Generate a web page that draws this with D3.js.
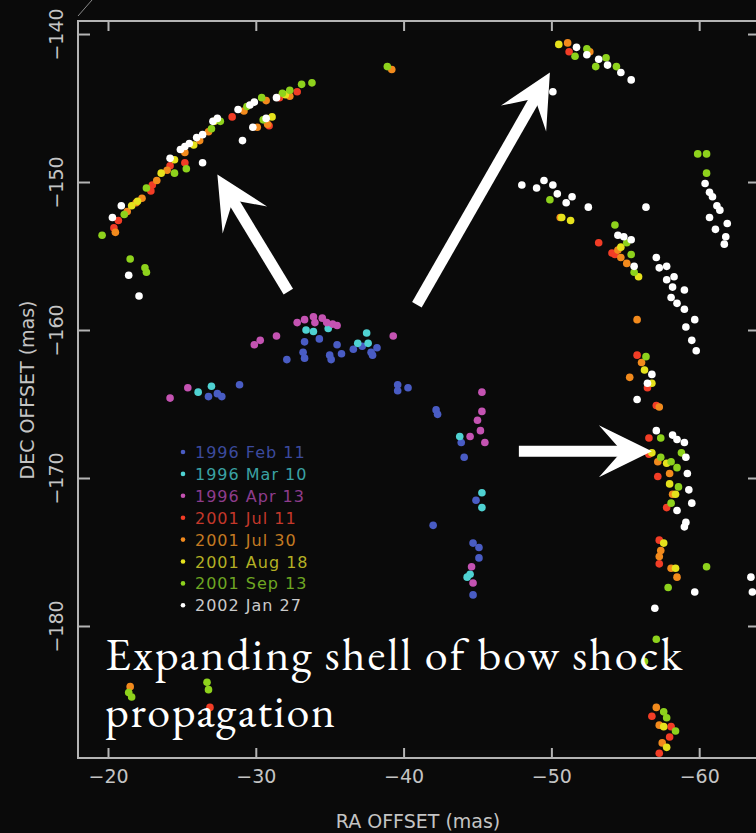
<!DOCTYPE html>
<html>
<head>
<meta charset="utf-8">
<script src="https://cdn.jsdelivr.net/npm/d3@7"></script>
<style>
html,body{margin:0;padding:0;background:#0a0a0a;}
svg{display:block;}
</style>
</head>
<body>
<svg id="chart" width="756" height="833"></svg>
<script>
// ---------- DATA ----------
const epochs = ["1996 Feb 11","1996 Mar 10","1996 Apr 13","2001 Jul 11","2001 Jul 30","2001 Aug 18","2001 Sep 13","2002 Jan 27"];
const dotColors = ["#4a5cc4","#4fd2d2","#c452b2","#f23c26","#f28a1e","#e6e21e","#8ed21e","#ffffff"];
const textColors = ["#3c4a9e","#3aa2a4","#8e3c8c","#c4382a","#c47a22","#b4b024","#6ea622","#cacaca"];
const xTicks = [-20,-30,-40,-50,-60];
const yTicks = [-140,-150,-160,-170,-180];

const feb11 = [[-26.8,-164.5],[-27.4,-164.3],[-27.7,-164.5],[-28.9,-163.7],[-32.1,-162.0],[-33.3,-160.8],[-33.2,-161.5],[-33.3,-161.9],[-34.3,-160.6],[-35.0,-161.7],[-35.1,-162.0],[-35.5,-161.0],[-35.8,-161.6],[-36.6,-161.3],[-37.2,-161.1],[-37.8,-161.5],[-38.2,-161.2],[-37.9,-161.7],[-39.6,-163.7],[-39.6,-164.1],[-40.3,-163.9],[-42.2,-165.4],[-42.3,-165.7],[-43.9,-167.6],[-44.1,-168.6],[-44.9,-171.5],[-42.0,-173.2],[-44.7,-174.4],[-45.1,-174.7],[-45.1,-175.4],[-44.7,-177.9]];
const mar10 = [[-26.1,-164.2],[-27.0,-163.8],[-33.4,-160.0],[-33.9,-160.1],[-34.9,-159.9],[-37.5,-160.2],[-36.9,-160.9],[-37.6,-160.9],[-43.8,-167.2],[-45.3,-171.0],[-45.3,-172.0],[-44.3,-176.7],[-44.5,-176.5]];
const apr13 = [[-24.2,-164.6],[-25.4,-163.9],[-29.9,-161.0],[-30.3,-160.7],[-31.4,-160.4],[-32.8,-159.5],[-33.3,-159.3],[-33.9,-159.1],[-34.0,-159.5],[-34.5,-159.2],[-34.8,-159.5],[-35.2,-159.6],[-35.5,-159.7],[-39.3,-160.4],[-45.3,-164.2],[-45.3,-165.5],[-45.0,-166.1],[-45.2,-166.8],[-45.5,-167.6],[-44.5,-167.2],[-44.6,-176.0],[-44.7,-177.1]];
const jul11 = [[-20.4,-153.1],[-20.7,-152.6],[-22.9,-150.6],[-23.0,-150.2],[-24.2,-148.9],[-25.2,-148.7],[-32.8,-143.9],[-31.6,-144.3],[-30.9,-146.2],[-28.4,-145.6],[-51.2,-141.2],[-53.2,-154.1],[-54.1,-154.8],[-54.3,-154.9],[-55.8,-161.7],[-56.5,-163.9],[-57.1,-165.1],[-56.6,-167.3],[-56.6,-168.4],[-57.2,-169.9],[-57.8,-172.0],[-57.3,-174.2],[-57.3,-175.8],[-56.8,-186.1],[-58.1,-186.8],[-58.0,-187.5],[-57.3,-188.6],[-26.9,-185.5]];
const jul30 = [[-20.5,-153.4],[-21.3,-152.0],[-21.9,-151.4],[-22.3,-151.1],[-23.3,-149.9],[-24.0,-149.2],[-25.2,-148.0],[-26.8,-146.6],[-26.2,-147.2],[-29.2,-145.2],[-30.7,-144.5],[-30.8,-146.1],[-30.1,-146.3],[-32.3,-144.2],[-39.2,-142.4],[-51.1,-140.6],[-52.6,-141.2],[-50.6,-152.4],[-54.5,-154.6],[-54.7,-155.1],[-55.1,-155.5],[-55.8,-159.3],[-56.1,-162.2],[-55.3,-163.2],[-57.3,-165.2],[-57.2,-168.9],[-58.0,-169.7],[-58.2,-171.1],[-57.4,-174.9],[-57.3,-175.3],[-58.1,-176.1],[-58.5,-176.7],[-57.1,-185.5],[-57.3,-186.7],[-57.5,-187.9],[-21.5,-184.1]];
const aug18 = [[-21.6,-151.6],[-22.0,-151.3],[-23.6,-149.4],[-24.5,-148.5],[-25.8,-147.5],[-27.2,-145.9],[-31.1,-145.6],[-32.0,-144.1],[-50.5,-140.7],[-51.3,-152.6],[-50.7,-152.4],[-54.7,-154.4],[-55.9,-156.4],[-56.3,-162.7],[-56.8,-163.6],[-56.8,-168.3],[-57.8,-169.0],[-58.0,-170.4],[-58.4,-171.1],[-57.6,-174.4],[-58.4,-176.1],[-57.6,-186.8],[-57.8,-188.2]];
const sep13 = [[-19.6,-153.6],[-21.1,-152.2],[-22.6,-150.4],[-24.5,-149.4],[-25.3,-149.1],[-27.0,-146.4],[-27.6,-145.9],[-29.4,-144.9],[-30.4,-144.3],[-31.8,-144.0],[-32.3,-143.8],[-33.1,-143.4],[-33.8,-143.3],[-30.5,-145.8],[-21.5,-155.2],[-22.5,-155.8],[-22.6,-156.1],[-38.9,-142.2],[-51.6,-141.5],[-52.4,-141.0],[-53.7,-141.6],[-53.0,-142.2],[-54.4,-142.2],[-49.9,-151.2],[-54.3,-152.9],[-55.1,-154.1],[-55.4,-154.9],[-55.6,-156.1],[-59.9,-148.1],[-60.5,-148.1],[-60.5,-149.4],[-56.4,-161.8],[-57.4,-167.3],[-58.8,-168.3],[-57.4,-168.6],[-58.1,-168.9],[-58.5,-169.3],[-58.6,-170.6],[-58.1,-171.7],[-60.5,-176.0],[-57.9,-177.4],[-57.1,-180.9],[-56.3,-182.4],[-57.6,-185.8],[-57.8,-186.2],[-58.4,-187.1],[-21.4,-184.5],[-21.6,-184.8],[-26.7,-183.8],[-26.8,-184.3]];
const jan27 = [[-20.3,-152.4],[-20.9,-151.6],[-24.2,-148.4],[-24.9,-147.8],[-25.2,-147.6],[-25.5,-147.4],[-26.0,-147.0],[-26.4,-146.8],[-27.4,-145.7],[-27.1,-145.9],[-26.4,-148.7],[-29.1,-147.2],[-28.8,-145.1],[-29.6,-144.8],[-29.9,-144.6],[-31.4,-144.3],[-29.8,-146.3],[-30.7,-145.7],[-21.4,-156.3],[-22.1,-157.7],[-51.7,-140.9],[-52.4,-141.4],[-53.2,-141.7],[-53.8,-142.1],[-54.7,-142.6],[-55.4,-143.1],[-50.1,-143.9],[-48.0,-150.2],[-49.0,-150.4],[-49.5,-149.9],[-50.1,-150.2],[-50.4,-150.8],[-51.0,-151.4],[-51.4,-151.0],[-52.5,-151.7],[-56.4,-151.7],[-60.4,-150.1],[-60.7,-150.7],[-60.9,-151.0],[-61.2,-151.6],[-61.4,-151.9],[-60.7,-152.4],[-61.1,-153.2],[-61.9,-152.8],[-61.8,-153.7],[-61.7,-154.2],[-54.5,-153.6],[-54.9,-153.7],[-55.4,-153.9],[-55.6,-155.7],[-57.1,-155.1],[-57.3,-155.8],[-57.8,-155.7],[-57.8,-156.6],[-58.3,-156.4],[-58.2,-157.1],[-59.0,-157.3],[-58.1,-157.8],[-58.5,-158.2],[-59.0,-158.6],[-59.7,-159.3],[-59.1,-159.8],[-59.5,-160.7],[-59.8,-161.4],[-56.8,-163.0],[-56.5,-163.6],[-55.8,-164.7],[-57.1,-166.8],[-58.2,-167.1],[-58.5,-167.4],[-59.0,-167.6],[-59.1,-168.6],[-59.2,-169.7],[-59.3,-170.8],[-59.5,-171.7],[-58.5,-172.2],[-59.1,-173.0],[-59.0,-173.3],[-59.7,-177.7],[-57.0,-178.8],[-63.5,-176.7],[-63.6,-177.7]];
const seriesData = [feb11, mar10, apr13, jul11, jul30, aug18, sep13, jan27];

// annotation arrows (data coordinates: tail -> tip)
const arrowTails = [[-32.2,-157.4],[-40.9,-158.3],[-47.8,-168.2]];
const arrowTips  = [[-27.4,-149.5],[-49.9,-142.6],[-56.8,-168.2]];
const noteLines = ["Expanding shell of bow shock","propagation"];

// ---------- CHART ----------
const svg = d3.select("#chart");
svg.append("rect").attr("width",756).attr("height",833).attr("fill","#0a0a0a");

const x = d3.scaleLinear().domain([-17.97,-63.98]).range([78,758]);
const y = d3.scaleLinear().domain([-139.12,-188.92]).range([21,758]);
const axisCol = "#b4b4b4";
const labelCol = "#c4c4c4";

const defs = svg.append("defs");
defs.append("filter").attr("id","soft").append("feGaussianBlur").attr("stdDeviation",0.6);

// frame
svg.append("rect").attr("x",78).attr("y",21).attr("width",680).attr("height",737)
  .attr("fill","none").attr("stroke",axisCol).attr("stroke-width",2);
svg.append("line").attr("x1",78).attr("y1",16).attr("x2",92).attr("y2",0)
  .attr("stroke","#8a8a8a").attr("stroke-width",1);

const fontAxis = "'DejaVu Sans', 'Liberation Sans', sans-serif";

const gB = svg.append("g").attr("transform","translate(0,758)")
  .call(d3.axisBottom(x).tickValues(xTicks).tickSizeInner(-10).tickSizeOuter(0).tickPadding(12));
const gT = svg.append("g").attr("transform","translate(0,21)")
  .call(d3.axisTop(x).tickValues(xTicks).tickSizeInner(-10).tickSizeOuter(0).tickFormat(""));
const gL = svg.append("g").attr("transform","translate(78,0)")
  .call(d3.axisLeft(y).tickValues(yTicks).tickSizeInner(-12).tickSizeOuter(0));
const gR = svg.append("g").attr("transform","translate(758,0)")
  .call(d3.axisRight(y).tickValues(yTicks).tickSizeInner(-10).tickSizeOuter(0).tickFormat(""));

[gB,gT,gL,gR].forEach(g=>{
  g.select(".domain").remove();
  g.selectAll(".tick line").attr("stroke",axisCol).attr("stroke-width",2);
  g.selectAll(".tick text").attr("fill",labelCol).style("font-family",fontAxis).style("font-size","19px");
});
gL.selectAll(".tick text").attr("x",0).attr("dy",0).attr("text-anchor","middle")
  .attr("transform","translate(-15,0) rotate(-90)");

svg.append("text").attr("x",418).attr("y",828).attr("text-anchor","middle")
  .attr("fill",labelCol).style("font-family",fontAxis).style("font-size","19px")
  .text("RA OFFSET (mas)");
svg.append("text").attr("transform","translate(34,390) rotate(-90)").attr("text-anchor","middle")
  .attr("fill",labelCol).style("font-family",fontAxis).style("font-size","19px")
  .text("DEC OFFSET (mas)");

// points
const pts = svg.append("g").attr("filter","url(#soft)");
seriesData.forEach((arr,i)=>{
  pts.append("g").selectAll("circle").data(arr).join("circle")
    .attr("cx",d=>x(d[0])).attr("cy",d=>y(d[1])).attr("r",3.8)
    .attr("fill",dotColors[i]);
});

// legend
const leg = svg.append("g");
epochs.forEach((e,i)=>{
  const cy = 452 + i*21.9;
  leg.append("circle").attr("cx",183).attr("cy",cy).attr("r",2.3).attr("fill",dotColors[i]);
  leg.append("text").attr("x",195).attr("y",cy+6).attr("fill",textColors[i])
    .style("font-family",fontAxis).style("font-size","16px").style("letter-spacing","1px")
    .text(e);
});

// arrows
const arrows = svg.append("g");
arrowTails.forEach((t,i)=>{
  const x0=x(t[0]), y0=y(t[1]), x1=x(arrowTips[i][0]), y1=y(arrowTips[i][1]);
  const dx=x1-x0, dy=y1-y0, L=Math.hypot(dx,dy), ux=dx/L, uy=dy/L, px=-uy, py=ux;
  const headLen=53, halfW=26, notch=30;
  const nx=x1-ux*notch, ny=y1-uy*notch;
  arrows.append("line").attr("x1",x0).attr("y1",y0).attr("x2",nx+ux*2).attr("y2",ny+uy*2)
    .attr("stroke","#fff").attr("stroke-width",11);
  const p = [[x1,y1],[x1-ux*headLen+px*halfW, y1-uy*headLen+py*halfW],[nx,ny],
             [x1-ux*headLen-px*halfW, y1-uy*headLen-py*halfW]];
  arrows.append("path").attr("d","M"+p.map(q=>q.join(",")).join("L")+"Z").attr("fill","#fff");
});

// annotation text
const noteWidths = [577, 230];
noteLines.forEach((t,i)=>{
  svg.append("text").attr("x",105).attr("y",670+i*57).attr("fill","#fff")
    .attr("textLength",noteWidths[i]).attr("lengthAdjust","spacing")
    .style("font-family","'EB Garamond','Liberation Serif','Times New Roman',serif")
    .style("font-size","46px").text(t);
});
</script>
</body>
</html>
